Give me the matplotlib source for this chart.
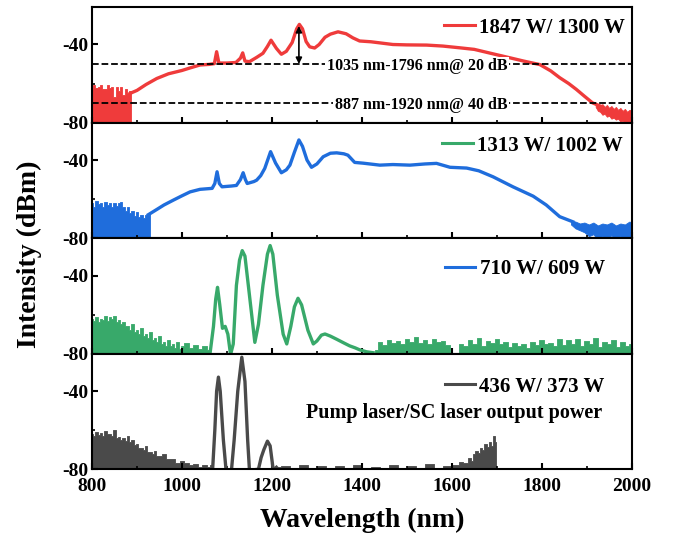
import matplotlib
matplotlib.use("Agg")
import matplotlib.pyplot as plt
from matplotlib.lines import Line2D
from matplotlib.ticker import MultipleLocator

plt.rcParams['font.family'] = ['Liberation Serif', 'DejaVu Serif']
plt.rcParams['font.weight'] = 'bold'
plt.rcParams['axes.unicode_minus'] = False

# ---- panel 1: 1847 W / 1300 W (red) ----
red_noise_x = [800, 805, 810, 815, 820, 825, 830, 835, 840, 845, 850, 855, 860, 865, 870, 875, 880, 885, 887]
red_noise_y = [-63, -61, -62.5, -62, -61, -63, -63, -61, -62.5, -62, -67, -62, -64, -62, -66, -63, -65, -64, -64]
red_x = [885, 900, 920, 944, 970, 1000, 1018, 1040, 1060, 1072, 1077, 1082, 1100, 1120, 1130, 1135,
         1140, 1150, 1166, 1180, 1190, 1198, 1210, 1221, 1232, 1245, 1255, 1261, 1268, 1276, 1284,
         1295, 1305, 1318, 1330, 1347, 1365, 1380, 1395, 1420, 1469, 1500, 1544, 1580, 1618, 1650,
         1692, 1729, 1760, 1796, 1820, 1840, 1860, 1877, 1895, 1913, 1930]
red_y = [-65, -63.5, -60.5, -57.4, -55, -53.3, -52, -50.5, -50.2, -49.8, -43.7, -49.5, -49.5, -49.2, -47, -44.3,
         -48.5, -48.8, -46.6, -44.5, -41, -37.8, -42, -45, -43.5, -39, -32, -29.7, -32, -38.5, -41.2,
         -41.8, -40, -36.3, -34.7, -33.5, -34.5, -36.6, -38.2, -38.6, -40, -40.2, -40.3, -40.8, -41.7, -42.5,
         -44.8, -46.8, -48.5, -50.3, -53.5, -57, -60, -63, -66.5, -69.9, -71.5]
red_tail_x = [1920, 1925, 1930, 1935, 1940, 1945, 1950, 1955, 1960, 1965, 1970, 1975, 1980, 1985, 1990, 1995, 2000]
red_tail_hi = [-70.5, -71, -71.5, -70.5, -72, -71, -72.5, -71.5, -73, -72, -73.5, -72.5, -74, -73, -74.5, -73.5, -73.5]
red_tail_lo = [-72, -74, -74.5, -76, -75.5, -77, -76.5, -78, -77.5, -78.5, -78, -79.5, -79, -81, -80, -81, -81]

# ---- panel 2: 1313 W / 1002 W (blue) ----
blue_noise_x = [800, 805, 810, 815, 820, 825, 830, 835, 840, 845, 850, 855, 860, 865, 870, 875, 880,
                885, 890, 895, 900, 905, 910, 915, 920, 925, 928]
blue_noise_y = [-62, -64, -61, -62.5, -62, -64, -61.5, -63, -62, -64, -62, -63.5, -62, -61.5, -64, -66, -64,
                -67, -66, -68.5, -66.5, -69, -68, -69.5, -68, -67.5, -67.5]
blue_x = [925, 944, 960, 981, 1000, 1018, 1040, 1067, 1073, 1078, 1083, 1089, 1110, 1121, 1130, 1136,
          1141, 1145, 1160, 1166, 1175, 1184, 1197, 1208, 1221, 1232, 1240, 1250, 1260, 1268, 1278,
          1288, 1300, 1314, 1330, 1344, 1360, 1369, 1384, 1403, 1440, 1469, 1507, 1540, 1566, 1596,
          1633, 1660, 1692, 1736, 1781, 1810, 1840, 1869]
blue_y = [-68, -65.3, -63, -60.5, -58.3, -56.3, -55, -54.5, -52, -46, -52, -53.7, -53.3, -53, -50, -46.5,
          -50, -52, -51, -50.3, -48, -44.3, -35.7, -41.5, -46.5, -45, -42.6, -36, -29.7, -33, -40,
          -43.7, -42, -38.3, -36.5, -36.3, -36.8, -37.5, -41.2, -41.6, -42.6, -42.3, -42.6, -42, -41.7, -43.7,
          -44.1, -45.5, -48.6, -53.7, -58.5, -63, -69, -71.6]
blue_tail_x = [1865, 1875, 1885, 1895, 1905, 1915, 1925, 1935, 1945, 1955, 1965, 1975, 1985, 1995, 2000]
blue_tail_hi = [-71, -71.5, -72.5, -72, -73, -72, -73.5, -72.5, -73, -72, -73.5, -72.5, -73, -71.5, -72]
blue_tail_lo = [-73, -75, -76, -77, -79, -78, -81, -79, -81, -78.5, -81, -79, -81, -80, -81]

# ---- panel 3: 710 W / 609 W (green) ----
green_noise_x = [800, 805, 810, 815, 820, 825, 830, 835, 840, 845, 850, 855, 860, 865, 870, 875, 880,
                 885, 890, 895, 900, 905, 910, 915, 920, 925, 930, 935, 940, 945, 950, 955, 960, 965,
                 970, 975, 980, 985, 990, 995, 1000, 1010, 1020, 1030, 1040, 1050, 1060]
green_noise_y = [-62, -63, -61, -64, -62, -62.5, -60.5, -63, -61, -62, -60.5, -64, -62.5, -65, -64, -66, -66,
                 -68, -65, -69, -68, -70, -67, -71, -70, -72, -69, -73, -72, -74, -71, -75, -74, -76,
                 -73, -76, -75, -77, -74, -77.5, -76, -74.5, -77, -75.5, -77.5, -76, -78]
green_x = [1062, 1070, 1075, 1079, 1084, 1090, 1096, 1102, 1108, 1114, 1121, 1128, 1134, 1140, 1150,
           1162, 1170, 1180, 1190, 1196, 1202, 1212, 1225, 1233, 1242, 1250, 1258, 1266, 1280, 1292,
           1300, 1310, 1318, 1330, 1344, 1360, 1373, 1385, 1395, 1410, 1425]
green_y = [-80.5, -66, -52, -46, -55, -67, -66, -70, -80.5, -75, -45, -32, -27.2, -30, -50,
           -74.2, -65, -45, -29, -24.6, -29, -50, -70, -75, -66, -56, -51.6, -55, -68, -75,
           -73.5, -70.5, -69.9, -71, -72.6, -74.5, -76, -77, -78, -79, -79.5]
green_noise2_x = [1430, 1440, 1450, 1460, 1470, 1480, 1490, 1500, 1510, 1520, 1530, 1540, 1550, 1560,
                  1570, 1580, 1590, 1600, 1610, 1620, 1630, 1640, 1650, 1660, 1670, 1680, 1690, 1700,
                  1710, 1720, 1730, 1740, 1750, 1760, 1770, 1780, 1790, 1800, 1810, 1820, 1830, 1840,
                  1850, 1860, 1870, 1880, 1890, 1900, 1910, 1920, 1930, 1940, 1950, 1960, 1970, 1980,
                  1990, 2000]
green_noise2_y = [-78, -74, -75.5, -73, -74.5, -73.5, -75, -72.5, -74, -71.5, -74.5, -73, -75, -72.5,
                  -74, -73.5, -75.5, -80.5, -80.5, -75, -76, -73, -75, -72, -76, -73.5, -74.5, -72.5,
                  -75, -74, -76.5, -74.5, -76, -75, -77, -74, -75.5, -73, -75, -74.5, -76, -72.5,
                  -75.5, -73, -75, -72.5, -76, -73.5, -75, -72, -76.5, -74, -75, -73, -76.5, -74,
                  -76, -75]

# ---- panel 4: 436 W / 373 W (dark grey) ----
grey_noise_x = [800, 805, 810, 815, 820, 825, 830, 835, 840, 845, 850, 855, 860, 865, 870, 875, 880,
                885, 890, 895, 900, 905, 910, 915, 920, 925, 930, 935, 940, 945, 950, 960,
                970, 980, 990, 1000, 1010, 1020, 1030, 1040, 1050, 1060, 1065]
grey_noise_y = [-62, -63, -61, -62.5, -61.5, -63, -60.5, -62, -62, -63, -60, -64, -63.5, -65, -64, -65.5, -63,
                -66, -65, -67.5, -67, -69, -69, -70, -68, -71, -71, -72, -70.5, -73, -73, -72,
                -75, -75, -77, -76, -77, -78, -77.5, -79, -78, -79, -78]
grey_x = [1068, 1073, 1077, 1081, 1085, 1092, 1098, 1110, 1116, 1124, 1133, 1140, 1146, 1150, 1170,
          1176, 1182, 1190, 1196, 1203, 1210]
grey_y = [-80.5, -60, -40, -32.8, -40, -65, -80.5, -80.5, -65, -40, -22.6, -35, -65, -80.5, -80,
          -74, -70, -65.6, -68, -80.5, -79]
grey_noise2_x = [1210, 1230, 1250, 1270, 1290, 1310, 1330, 1350, 1370, 1390, 1410, 1430, 1450, 1470,
                 1490, 1510, 1530, 1550, 1570, 1590, 1610, 1620, 1630, 1640, 1645, 1650, 1655, 1660,
                 1665, 1670, 1675, 1680, 1685, 1690, 1695, 1698, 1700]
grey_noise2_y = [-79, -78.5, -79.5, -78, -79.5, -78.5, -79.5, -78.5, -79.5, -77.8, -79.5, -78.6, -79.5, -77.8,
                 -79.5, -78.5, -79.5, -77.5, -79.5, -78.5, -78, -76.5, -77, -74, -76, -72, -70.8, -71.5,
                 -69, -70, -67.3, -68.5, -66, -68, -63, -66, -80.5]

labels = ['1847 W/ 1300 W', '1313 W/ 1002 W', '710 W/ 609 W', '436 W/ 373 W']
c_red, c_blue, c_green, c_grey = '#ef3b3b', '#1f6ddc', '#38a96a', '#4a4a4a'

fig, axes = plt.subplots(4, 1, figsize=(6.77, 5.40), dpi=100, sharex=True)
fig.subplots_adjust(left=0.136, right=0.933, bottom=0.131, top=0.987, hspace=0)

ax1, ax2, ax3, ax4 = axes
lw = 2.4

ax1.fill_between(red_noise_x, red_noise_y, -90, step='mid', color=c_red, lw=0.6)
ax1.plot(red_x, red_y, color=c_red, lw=lw)
ax1.fill_between(red_tail_x, red_tail_hi, red_tail_lo, color=c_red, lw=0.6)

ax2.fill_between(blue_noise_x, blue_noise_y, -90, step='mid', color=c_blue, lw=0.6)
ax2.plot(blue_x, blue_y, color=c_blue, lw=lw)
ax2.fill_between(blue_tail_x, blue_tail_hi, blue_tail_lo, color=c_blue, lw=0.6)

ax3.fill_between(green_noise_x, green_noise_y, -90, step='mid', color=c_green, lw=0.6)
ax3.plot(green_x, green_y, color=c_green, lw=lw)
ax3.fill_between(green_noise2_x, green_noise2_y, -90, step='mid', color=c_green, lw=0.6)

ax4.fill_between(grey_noise_x, grey_noise_y, -90, step='mid', color=c_grey, lw=0.6)
ax4.plot(grey_x, grey_y, color=c_grey, lw=lw)
ax4.fill_between(grey_noise2_x, grey_noise2_y, -90, step='mid', color=c_grey, lw=0.6)

# legends (the handle colours of panels 2 and 3 are swapped in the original)
handle_colors = [c_red, c_green, c_blue, c_grey]
anchors = [(0.987, 0.821), (0.983, 0.80), (0.95, 0.729), (0.95, 0.714)]
for ax, lab, hc, anc in zip(axes, labels, handle_colors, anchors):
    ax.legend([Line2D([], [], color=hc, lw=2.2)], [lab], loc='center right', bbox_to_anchor=anc,
              frameon=False, fontsize=15, handlelength=1.45, handletextpad=0.2,
              borderpad=0, borderaxespad=0)

# 20 dB / 40 dB bandwidth markers
for lvl, txt in [(-50, '1035 nm-1796 nm@ 20 dB'), (-70, '887 nm-1920 nm@ 40 dB')]:
    ax1.axhline(lvl, color='k', ls='--', lw=1.3, zorder=3)
    ax1.text(1724, lvl - 1.2, txt, ha='right', va='center', fontsize=11.5, zorder=4,
             bbox=dict(facecolor='white', edgecolor='none', pad=1))
ax1.annotate('', xy=(1260, -30.5), xytext=(1260, -50),
             arrowprops=dict(arrowstyle='<|-|>', color='k', lw=1.2, mutation_scale=9,
                             shrinkA=0, shrinkB=0), zorder=5)

ax4.text(0.67, 0.483, 'Pump laser/SC laser output power', transform=ax4.transAxes,
         ha='center', va='center', fontsize=14.5)

for ax in axes:
    ax.set_xlim(800, 2000)
    ax.set_ylim(-80, -20.8)
    ax.set_yticks([-80, -40])
    ax.yaxis.set_minor_locator(MultipleLocator(20))
    ax.xaxis.set_major_locator(MultipleLocator(200))
    ax.xaxis.set_minor_locator(MultipleLocator(100))
    ax.tick_params(which='both', direction='in', top=False, right=False, labelsize=14)
    ax.tick_params(which='major', length=4, width=1.5, pad=3)
    ax.tick_params(which='minor', length=2.5, width=1.2)
    ax.tick_params(axis='x', which='major', pad=6)
    for sp in ax.spines.values():
        sp.set_linewidth(1.5)
        sp.set_zorder(6)

fig.text(0.5355, 0.037, 'Wavelength (nm)', ha='center', va='center', fontsize=20)
fig.text(0.044, 0.53, 'Intensity (dBm)', ha='center', va='center', rotation=90, fontsize=20)

fig.savefig('out.png', dpi=100)
